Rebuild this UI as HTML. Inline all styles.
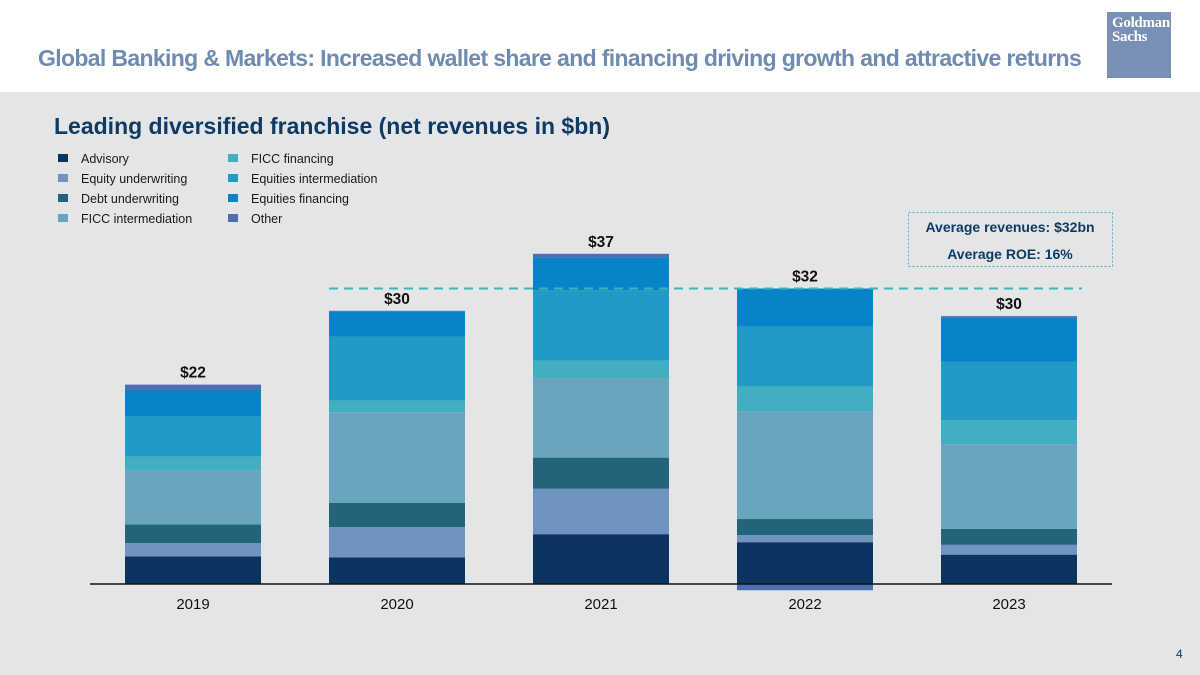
<!DOCTYPE html>
<html><head><meta charset="utf-8"><style>
body{margin:0;width:1200px;height:675px;overflow:hidden;font-family:"Liberation Sans",sans-serif;background:#fff;position:relative}
#bg{position:absolute;left:0;top:92px;width:1200px;height:583px;background:#e4e5e7}
#title{position:absolute;left:38px;top:45px;font-size:23px;font-weight:bold;color:#6f8bb1;letter-spacing:-0.65px}
#logo{position:absolute;left:1107px;top:12px;width:64px;height:66px;background:#7890b5;color:#fff;font-family:"Liberation Serif",serif;font-weight:bold;font-size:15px;line-height:14px;padding:4px 0 0 5px;box-sizing:border-box;letter-spacing:-0.3px}
#sub{position:absolute;left:54px;top:113px;font-size:23px;font-weight:bold;color:#0d3b66}
#pg{position:absolute;left:1176px;top:647px;font-size:12px;color:#0d3b66}
svg{position:absolute;left:0;top:0}
</style></head><body>
<div id="bg"></div>
<div id="title">Global Banking &amp; Markets: Increased wallet share and financing driving growth and attractive returns</div>
<div id="logo">Goldman<br>Sachs</div>
<div id="sub">Leading diversified franchise (net revenues in $bn)</div>
<div id="pg">4</div>
<svg id="chart" width="1200" height="675"></svg>
<script>
const categories=["2019","2020","2021","2022","2023"];
const seriesNames=["Advisory","Equity underwriting","Debt underwriting","FICC intermediation","FICC financing","Equities intermediation","Equities financing","Other"];
const advisory=[3.1,3.0,5.6,4.7,3.3];
const equityUW=[1.5,3.4,5.1,0.8,1.1];
const debtUW=[2.1,2.7,3.5,1.8,1.8];
const ficcInt=[6.1,10.2,8.9,12.1,9.5];
const ficcFin=[1.5,1.3,2.0,2.8,2.7];
const eqInt=[4.5,7.2,7.9,6.7,6.6];
const eqFin=[3.0,2.8,3.7,4.3,4.9];
const other=[0.6,0.1,0.4,-0.7,0.2];
const totals=["$22","$30","$37","$32","$30"];
const avgLineLevel=33.2;
const colors=["#0b3560","#7094c0","#22657b","#6aa5c0","#41aec1","#2399c6","#0783c7","#4b6fb2"];
const series=[advisory,equityUW,debtUW,ficcInt,ficcFin,eqInt,eqFin,other];
const svg=document.getElementById('chart');const NS="http://www.w3.org/2000/svg";
const base=584,ppu=8.9,x0=125,step=204,bw=136;
const y=v=>base-v*ppu;const xb=i=>x0+i*step;
function mk(t,a,p){const e=document.createElementNS(NS,t);for(const k in a)e.setAttribute(k,a[k]);(p||svg).appendChild(e);return e;}
seriesNames.forEach((n,i)=>{const col=i<4?0:1,row=i%4;const lx=58+col*170,ly=154+row*20;
const g=mk('g',{});


mk('rect',{x:lx,y:ly,width:10,height:8,fill:colors[i]},g);
const t=mk('text',{x:lx+23,y:ly+9,'font-size':12.5,fill:'#1a1a1a'},g);t.textContent=n;});
categories.forEach((c,i)=>{let pos=0,neg=0;
series.forEach((s,k)=>{const v=s[i];let y1,y2;
if(v>=0){y1=y(pos+v);y2=y(pos);pos+=v;}else{y1=y(neg);y2=y(neg+v);neg+=v;}
const r=mk('rect',{x:xb(i),y:y1,width:bw,height:Math.max(0,y2-y1),fill:colors[k]});

});
const lbl=mk('text',{x:xb(i)+bw/2,y:y(pos)-7,'font-size':15.5,'font-weight':'bold','text-anchor':'middle',fill:'#111'});


lbl.textContent=totals[i];
const xl=mk('text',{x:xb(i)+bw/2,y:609,'font-size':15,'text-anchor':'middle',fill:'#111'});


xl.textContent=c;});
const ax=mk('line',{x1:90,x2:1112,y1:base,y2:base,stroke:'#111','stroke-width':1.5});


const avg=mk('line',{x1:329,x2:1082,y1:y(avgLineLevel),y2:y(avgLineLevel),stroke:'#3bb8b6','stroke-width':2,'stroke-dasharray':'9,6'});


const box=mk('g',{});


mk('rect',{x:908.5,y:212.5,width:204,height:54,fill:'none',stroke:'#3bb8b6','stroke-dasharray':'2,2'},box);
let t1=mk('text',{x:1010,y:232,'font-size':14,'font-weight':'bold','text-anchor':'middle',fill:'#0d3b66'},box);t1.textContent='Average revenues: $32bn';
let t2=mk('text',{x:1010,y:259,'font-size':14,'font-weight':'bold','text-anchor':'middle',fill:'#0d3b66'},box);t2.textContent='Average ROE: 16%';
</script>
</body></html>
